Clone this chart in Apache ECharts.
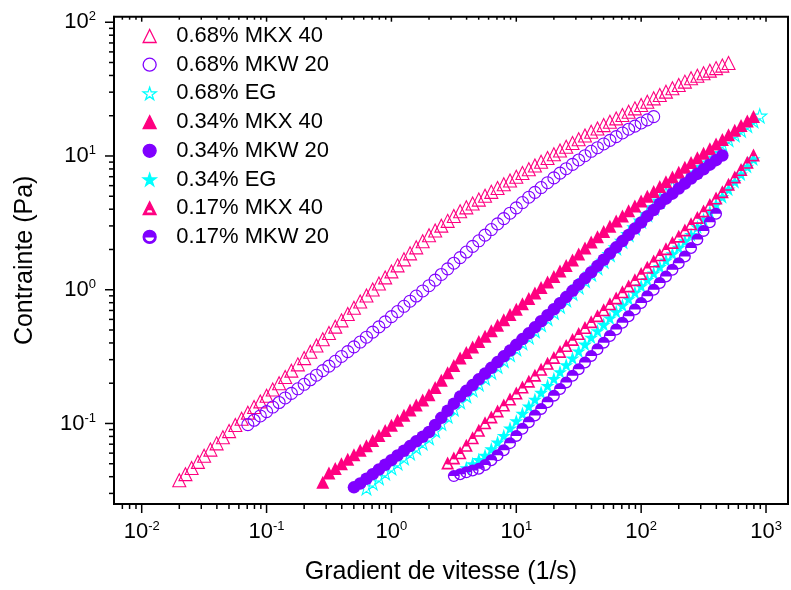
<!DOCTYPE html>
<html><head><meta charset="utf-8">
<script src="https://cdn.jsdelivr.net/npm/echarts@6/dist/echarts.min.js"></script>
<style>html,body{margin:0;padding:0;background:#fff}#c{width:791px;height:590px}</style>
</head><body><div id="c"></div>
<script>
// ---- data ----
const names = ['0.68% MKX 40','0.68% MKW 20','0.68% EG','0.34% MKX 40','0.34% MKW 20','0.34% EG','0.17% MKX 40','0.17% MKW 20'];
// shear rates (1/s) of the measurement grid
const shearRate = [0.0200,0.0224,0.0251,0.0282,0.0316,0.0355,0.0398,0.0447,0.0501,0.0562,0.0631,0.0708,0.0794,0.0891,
  0.100,0.112,0.126,0.141,0.158,0.178,0.200,0.224,0.251,0.282,0.316,0.355,0.398,0.447,0.501,0.562,0.631,0.708,0.794,0.891,
  1.00,1.12,1.26,1.41,1.58,1.78,2.00,2.24,2.51,2.82,3.16,3.55,3.98,4.47,5.01,5.62,6.31,7.08,7.94,8.91,
  10.0,11.2,12.6,14.1,15.8,17.8,20.0,22.4,25.1,28.2,31.6,35.5,39.8,44.7,50.1,56.2,63.1,70.8,79.4,89.1,
  100,112,126,141,158,178,200,224,251,282,316,355,398,447,501,562,631,708,794,891];
// first shear rate of each series
const firstRate = [0.0200, 0.0708, 0.631, 0.282, 0.501, 3.98, 2.82, 3.16];
// stress (Pa)
const mkx68 = [0.0376,0.0418,0.0465,0.0516,0.0574,0.0638,0.0710,0.0789,0.0877,0.0975,0.1084,0.1205,0.1327,0.1462,0.1611,
  0.1795,0.200,0.2228,0.2483,0.2767,0.3083,0.3436,0.3828,0.4266,0.4753,0.5297,0.5902,0.6577,0.7328,0.8166,
  0.9057,1.005,1.114,1.236,1.371,1.521,1.687,1.871,2.075,2.301,2.553,2.773,3.013,3.273,3.556,3.864,
  4.130,4.416,4.721,5.047,5.395,5.768,6.152,6.561,6.998,7.464,7.962,8.492,9.057,9.661,10.30,10.99,11.72,12.50,13.34,14.22,15.17,
  16.07,17.02,18.03,19.10,20.23,21.43,22.70,24.04,25.47,26.98,28.58,30.27,32.06,33.96,35.97,38.11,
  39.81,41.59,43.45,45.39,47.42,49.55];
const mkw68 = [0.0980,0.1057,0.1138,0.1227,0.1327,0.1435,0.1552,0.1679,0.1816,0.1963,0.2123,0.2296,0.2483,0.2685,0.2917,0.3170,0.3443,0.3741,0.4064,0.4416,
  0.4819,0.5272,0.5754,0.6295,0.6871,0.7516,0.8204,0.8974,0.9795,1.072,
  1.180,1.300,1.432,1.578,1.738,1.914,2.109,2.323,2.559,2.818,3.105,3.404,3.733,4.093,4.487,4.920,
  5.346,5.808,6.310,6.855,7.447,8.035,8.650,9.333,10.05,10.84,11.53,12.30,13.09,13.96,14.86,15.85,16.71,17.66,18.62,19.68];
const eg68 = [0.0331,0.0361,0.0394,0.0429,0.0468,0.0509,0.0556,0.0605,0.0661,0.0719,0.0785,
  0.0889,0.1007,0.1140,0.1291,0.1462,
  0.1618,0.1791,0.1982,0.2193,0.2427,0.2685,0.2972,0.3289,0.3639,0.4027,0.4457,0.4955,0.5508,0.6124,0.6808,0.7568,
  0.8453,0.9441,1.054,1.178,1.315,1.469,1.641,
  1.841,2.065,2.317,2.600,2.917,3.273,3.673,4.121,4.624,5.188,5.821,6.531,7.328,8.222,
  8.913,9.661,10.47,11.35,12.30,13.34,14.45,15.67,16.98,18.41,19.95];
const mkx34 = [0.0363,0.0427,0.0461,0.0499,0.0540,0.0583,0.0631,0.0682,
  0.0745,0.0813,0.0887,0.0968,0.1057,0.1153,0.1259,0.1374,0.1500,0.1637,
  0.1858,0.2109,0.2393,0.2716,0.3083,
  0.3388,0.3724,0.4093,0.4498,0.4943,0.5433,0.5957,0.6531,0.7161,0.7852,0.8610,
  0.9462,1.040,1.143,1.256,1.380,1.517,1.667,1.849,2.051,2.275,
  2.489,2.723,2.979,3.258,3.565,3.899,4.236,4.603,5.000,5.433,5.902,6.412,6.966,7.568,8.222,8.933,
  9.683,10.47,11.35,12.27,13.30,14.39,15.60,16.87,18.28,19.77];
const mkw34 = [0.0333,0.0356,0.0386,0.0418,0.0453,0.0491,0.0532,0.0577,0.0625,0.0678,0.0735,0.0796,0.0863,
  0.0975,0.1102,0.1245,0.1406,0.1589,
  0.1754,0.1936,0.2138,0.2360,0.2606,0.2877,0.3177,0.3508,0.3873,0.4276,0.4721,
  0.5236,0.5808,0.6442,0.7145,0.7925,
  0.8810,0.9817,1.091,1.216,1.352,1.507,1.675,1.866,2.075,2.312,2.570,2.864,3.184,3.548,3.945,4.395,
  4.797,5.224,5.702,6.209,6.776,7.345,7.943,8.610,9.311,10.09];
const eg34 = [0.0466,0.0499,0.0535,0.0577,0.0644,0.0723,0.0811,0.0920,0.1045,0.1186,0.1346,
  0.1514,0.1706,0.1919,0.2163,0.2432,0.2742,0.3083,0.3475,0.3908,0.4406,
  0.4920,0.5495,0.6138,0.6855,0.7656,0.8551,0.9550,1.067,1.191,1.330,1.486,1.660,1.854,2.070,2.312,2.582,
  2.944,3.350,3.819,4.345,4.955,5.636,6.427,7.311,8.337,9.484];
const mkx17 = [0.0507,0.0553,0.0604,0.0687,0.0782,0.0889,0.1012,
  0.1119,0.1242,0.1374,0.1524,0.1687,0.1871,0.2070,0.2296,0.2541,0.2818,0.3119,0.3459,0.3828,0.4246,0.4699,0.5212,0.5768,0.6397,0.7079,0.7852,0.8690,0.9638,1.067,
  1.189,1.321,1.472,1.637,1.824,2.028,2.259,2.512,2.799,3.112,3.475,3.882,4.335,4.842,5.408,
  6.138,6.966,7.907,8.974,10.19];
const mkw17 = [0.0404,0.0417,0.0431,0.0445,0.0459,0.0489,0.0531,0.0578,0.0630,0.0713,0.0807,0.0914,
  0.1023,0.1148,0.1285,0.1442,0.1614,0.1811,0.2028,0.2275,0.2547,0.2858,0.3199,0.3589,0.4018,0.4508,0.5047,0.5662,0.6339,0.7112,0.7962,0.8933,1.000,1.122,1.256,1.409,1.578,1.770,
  2.051,2.377,2.754,3.192,3.698];
const xMajorTicks = [0.01,0.1,1,10,100,1000];
const xMinorTicks = [0.007,0.008,0.009,0.02,0.03,0.04,0.05,0.06,0.07,0.08,0.09,0.2,0.3,0.4,0.5,0.6,0.7,0.8,0.9,2,3,4,5,6,7,8,9,20,30,40,50,60,70,80,90,200,300,400,500,600,700,800,900];
const yMajorTicks = [0.1,1,10,100];
const yMinorTicks = [0.03,0.04,0.05,0.06,0.07,0.08,0.09,0.2,0.3,0.4,0.5,0.6,0.7,0.8,0.9,2,3,4,5,6,7,8,9,20,30,40,50,60,70,80,90];
const X_MIN = 0.006, X_MAX = 1500, Y_MIN = 0.025, Y_MAX = 110;

// ---- styles ----
const PINK = '#ff0080', PURPLE = '#8000ff', CYAN = '#00ffff';
const FONT = '"Liberation Sans", Arial, sans-serif';
const star = 'path://M10,0 L12.4,7.2 L20,7.2 L13.8,11.8 L16.2,19 L10,14.5 L3.8,19 L6.2,11.8 L0,7.2 L7.6,7.2 Z';
const halfTri = 'path://M10,0 L20,20 L0,20 Z M10,5.6 L4.05,17.5 L15.95,17.5 Z M10,5.6 L13.2,12 L6.8,12 Z';
const halfCirc = 'path://M0,10 A10,10 0 1 1 20,10 A10,10 0 1 1 0,10 Z M2.2,10 A7.8,7.8 0 1 0 17.8,10 A7.8,7.8 0 1 0 2.2,10 Z M2.2,10 A7.8,7.8 0 0 1 17.8,10 Z';

function pair(ys, k){
  const i0 = shearRate.indexOf(firstRate[k]);
  return ys.map((y, j) => [shearRate[i0 + j], y]);
}
function isPow10(v){ const l = Math.log10(v); return Math.abs(l - Math.round(l)) < 1e-6; }
function powLabel(v){ if(!isPow10(v)) return ''; return '{b|10}{s|' + Math.round(Math.log10(v)) + '}'; }
const labelRich = { b:{fontSize:22, lineHeight:24, fontFamily:FONT, color:'#000'}, s:{fontSize:13, lineHeight:11, verticalAlign:'top', fontFamily:FONT, color:'#000'} };

function scatter(name, data, symbol, size, fill, stroke, bw){
  return { name, type:'scatter', data, symbol, symbolSize:size, z:3, large:false,
    itemStyle:{ color:fill, borderColor:stroke, borderWidth:bw, opacity:1 }, emphasis:{disabled:true}, animation:false };
}

const tickData = [];
xMajorTicks.forEach(v=>tickData.push([v, Y_MIN, 1, 0]));
xMinorTicks.forEach(v=>tickData.push([v, Y_MIN, 0, 0]));
yMajorTicks.forEach(v=>tickData.push([X_MIN, v, 1, 1]));
yMinorTicks.forEach(v=>tickData.push([X_MIN, v, 0, 1]));

const ticks = {
  type:'custom', silent:true, z:10, clip:false, animation:false,
  data: tickData,
  renderItem(params, api){
    const major = api.value(2) === 1, isY = api.value(3) === 1;
    const ls = {stroke:'#000', lineWidth:1.5};
    if(!isY){
      const v = api.value(0);
      const b = api.coord([v, Y_MIN]), t = api.coord([v, Y_MAX]);
      const L = major ? 9 : 5, Lt = major ? 5 : 3;
      return {type:'group', children:[
        {type:'line', shape:{x1:b[0], y1:b[1], x2:b[0], y2:b[1]+L}, style:ls},
        {type:'line', shape:{x1:t[0], y1:t[1], x2:t[0], y2:t[1]+Lt}, style:ls}
      ]};
    } else {
      const v = api.value(1);
      const p = api.coord([X_MIN, v]);
      const L = major ? 9 : 5;
      return {type:'line', shape:{x1:p[0], y1:p[1], x2:p[0]-L, y2:p[1]}, style:ls};
    }
  }
};

const chart = echarts.init(document.getElementById('c'), null, {renderer:'canvas'});
chart.setOption({
  backgroundColor:'#fff',
  animation:false,
  grid:{ left:114, right:-6.4, top:16.7, bottom:81.4, show:true, borderColor:'#000', borderWidth:2, backgroundColor:'transparent' },
  legend:{ orient:'vertical', left:137.5, top:20, itemWidth:13, itemHeight:13, itemGap:6.7, padding:5,
    data:names, selectedMode:false,
    itemStyle:{borderWidth:1.3},
    textStyle:{ fontSize:22, lineHeight:22, fontFamily:FONT, color:'#000', padding:[0,0,0,15] } },
  xAxis:{ type:'log', logBase:10, min:X_MIN, max:X_MAX,
    name:'Gradient de vitesse (1/s)', nameLocation:'middle', nameGap:56,
    nameTextStyle:{ fontSize:25, fontFamily:FONT, color:'#000', padding:[0,20,0,0] },
    axisLine:{ show:true, lineStyle:{color:'#000', width:2} }, axisTick:{show:false}, splitLine:{show:false}, minorTick:{show:false},
    axisLabel:{ formatter:powLabel, rich:labelRich, margin:16, showMinLabel:true, showMaxLabel:true, hideOverlap:false } },
  yAxis:{ type:'log', logBase:10, min:Y_MIN, max:Y_MAX,
    name:'Contrainte (Pa)', nameLocation:'middle', nameGap:76, nameRotate:90,
    nameTextStyle:{ fontSize:25, fontFamily:FONT, color:'#000' },
    axisLine:{ show:true, lineStyle:{color:'#000', width:2} }, axisTick:{show:false}, splitLine:{show:false}, minorTick:{show:false},
    axisLabel:{ formatter:powLabel, rich:labelRich, margin:18, hideOverlap:false } },
  series:[
    scatter(names[0], pair(mkx68,0), 'triangle', 13, 'transparent', PINK, 1.1),
    scatter(names[1], pair(mkw68,1), 'circle', 12, 'transparent', PURPLE, 1.1),
    scatter(names[2], pair(eg68,2), star, 14, 'transparent', CYAN, 1.1),
    scatter(names[3], pair(mkx34,3), 'triangle', 13, PINK, PINK, 0),
    scatter(names[4], pair(mkw34,4), 'circle', 12.5, PURPLE, PURPLE, 0),
    scatter(names[5], pair(eg34,5), star, 14, CYAN, CYAN, 0),
    scatter(names[6], pair(mkx17,6), halfTri, 13, PINK, PINK, 0),
    scatter(names[7], pair(mkw17,7), halfCirc, 12, PURPLE, PURPLE, 0),
    ticks
  ]
});
</script></body></html>
